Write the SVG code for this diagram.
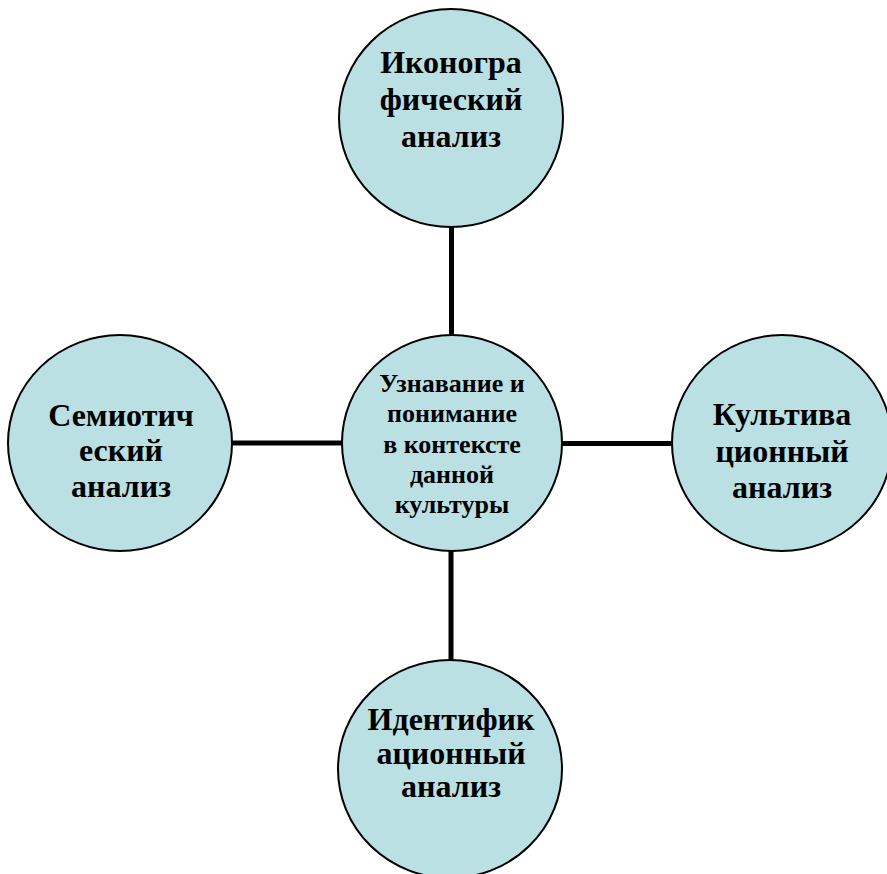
<svg xmlns="http://www.w3.org/2000/svg" width="887" height="874" viewBox="0 0 887 874">
<style>
.n{fill:#bbe0e3;stroke:#000;stroke-width:2}
.t{font-family:"Liberation Serif","Times New Roman",serif;font-weight:bold;font-size:32px;fill:#000;text-anchor:middle}
.c{font-size:26px}
.e{stroke:#000;stroke-width:5;fill:none}
</style>
<rect width="887" height="874" fill="#fff"/>
<g id="connectors">
<line class="e" x1="451.5" y1="227" x2="451.5" y2="336"/>
<line class="e" x1="451" y1="551" x2="451" y2="661"/>
<line class="e" x1="231" y1="443" x2="343" y2="443"/>
<line class="e" x1="561" y1="443.5" x2="673" y2="443.5"/>
</g>
<g id="n-top">
<ellipse class="n" cx="451" cy="118" rx="112" ry="109"/>
<text class="t"><tspan x="451" y="73">Иконогра</tspan><tspan x="451" y="110">фический</tspan><tspan x="451" y="147">анализ</tspan></text>
</g>
<g id="n-center">
<ellipse class="n" cx="452" cy="443" rx="110" ry="108"/>
<text class="t c"><tspan x="452" y="392">Узнавание и</tspan><tspan x="452" y="422">понимание</tspan><tspan x="452" y="453">в контексте</tspan><tspan x="452" y="483">данной</tspan><tspan x="452" y="513">культуры</tspan></text>
</g>
<g id="n-left">
<ellipse class="n" cx="120" cy="443" rx="112" ry="108"/>
<text class="t"><tspan x="121" y="426">Семиотич</tspan><tspan x="121" y="461">еский</tspan><tspan x="121" y="497">анализ</tspan></text>
</g>
<g id="n-right">
<ellipse class="n" cx="782" cy="443" rx="110" ry="108"/>
<text class="t"><tspan x="782" y="425">Культива</tspan><tspan x="782" y="462">ционный</tspan><tspan x="782" y="498">анализ</tspan></text>
</g>
<g id="n-bottom">
<ellipse class="n" cx="450" cy="769" rx="112" ry="109"/>
<text class="t"><tspan x="451" y="730">Идентифик</tspan><tspan x="451" y="764">ационный</tspan><tspan x="451" y="797">анализ</tspan></text>
</g>
</svg>
